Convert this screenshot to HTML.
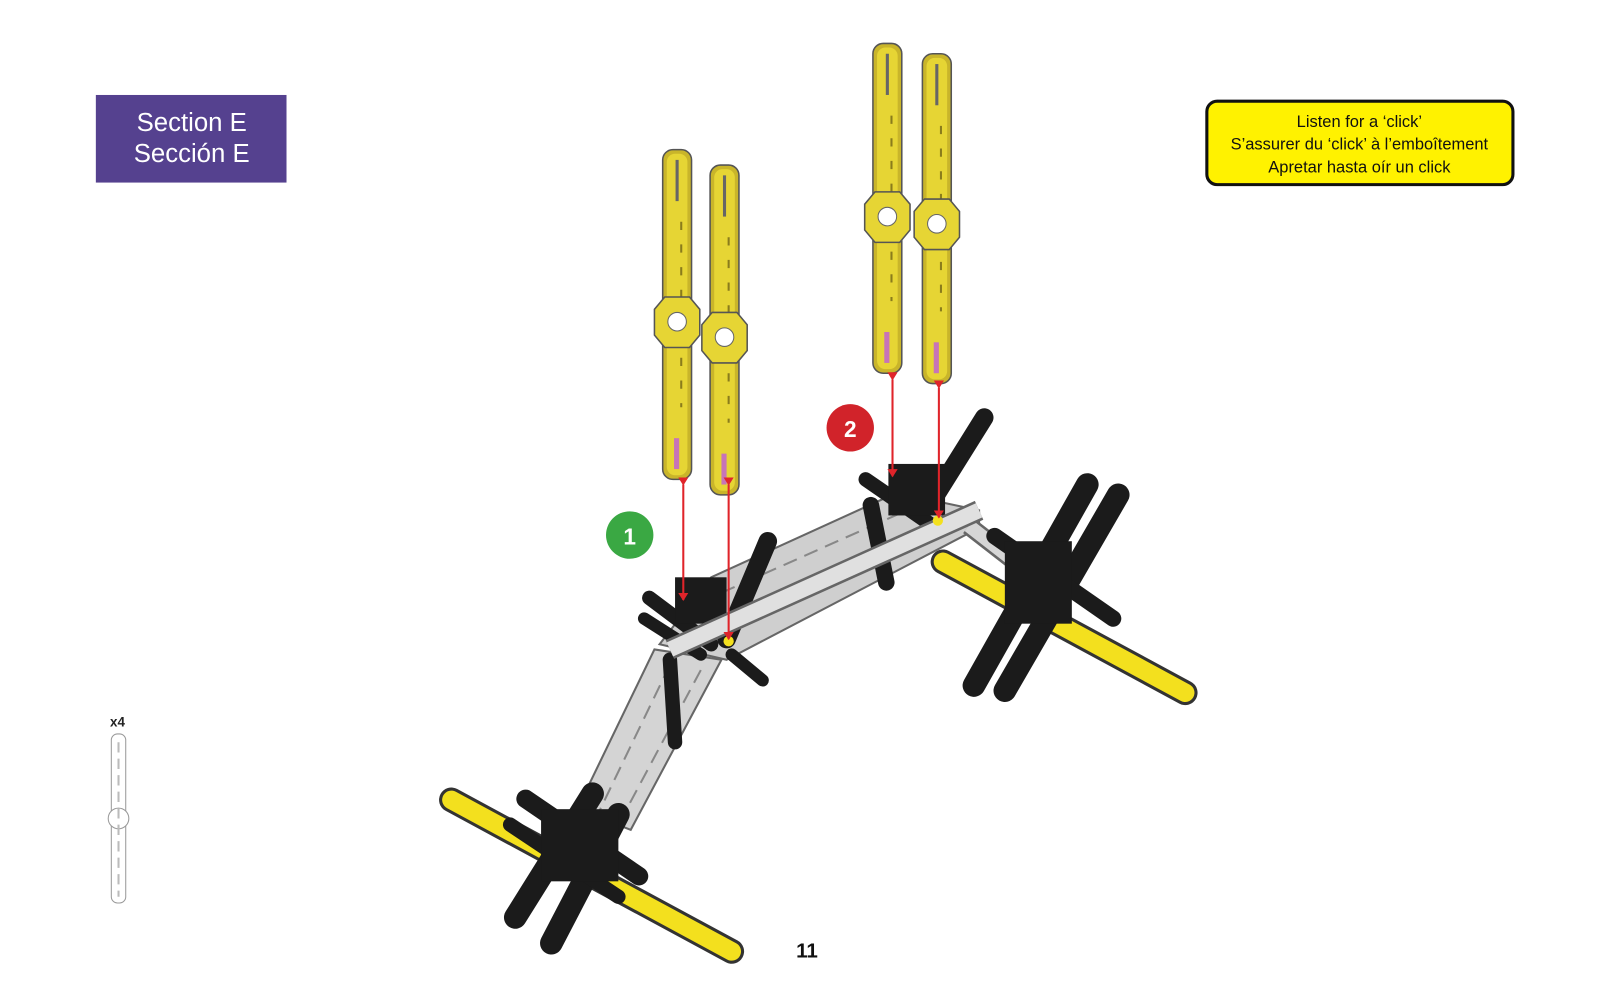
<!DOCTYPE html>
<html><head><meta charset="utf-8"><style>
html,body{margin:0;padding:0;background:#fff;}
svg{display:block}
</style></head><body>
<svg width="1616" height="1000" viewBox="0 0 1568 970" xmlns="http://www.w3.org/2000/svg">
<defs>
<marker id="ah" markerWidth="8" markerHeight="10" refX="7" refY="5" orient="auto" markerUnits="userSpaceOnUse"><path d="M0,0 L8,5 L0,10 Z" fill="#e0242a"/></marker>
<g id="vbar">
  <rect x="-14" y="0" width="28" height="320" rx="10" fill="#c9b52a" stroke="#555" stroke-width="1.5"/>
  <rect x="-10" y="4" width="20" height="312" rx="8" fill="#e6d534"/>
  <line x1="0" y1="10" x2="0" y2="50" stroke="#666" stroke-width="3"/>
  <line x1="4" y1="70" x2="4" y2="250" stroke="#8a7c1c" stroke-width="2" stroke-dasharray="8 14"/>
  <rect x="-3" y="280" width="5" height="30" fill="#c774b8"/>
</g>
</defs>

<rect x="93" y="92" width="185" height="85" fill="#55418f"/>
<text x="186" y="127" text-anchor="middle" font-family="Liberation Sans, sans-serif" font-size="25" fill="#fff">Section E</text>
<text x="186" y="157" text-anchor="middle" font-family="Liberation Sans, sans-serif" font-size="25" fill="#fff">Sección E</text>

<rect x="1171" y="98" width="297" height="81" rx="10" fill="#fff200" stroke="#111" stroke-width="3"/>
<g font-family="Liberation Sans, sans-serif" font-size="16" fill="#111" text-anchor="middle">
<text x="1319" y="123">Listen for a ‘click’</text>
<text x="1319" y="145">S’assurer du ‘click’ à l’emboîtement</text>
<text x="1319" y="167">Apretar hasta oír un click</text>
</g>

<g stroke-linecap="round">
<line x1="438" y1="776" x2="710" y2="923" stroke="#333" stroke-width="24"/>
<line x1="438" y1="776" x2="710" y2="923" stroke="#f3e01e" stroke-width="18"/>
<line x1="915" y1="545" x2="1150" y2="672" stroke="#333" stroke-width="24"/>
<line x1="915" y1="545" x2="1150" y2="672" stroke="#f3e01e" stroke-width="18"/>
</g>

<polygon points="690,560 870,478 950,495 950,512 705,640 640,625" fill="#cfcfcf" stroke="#666" stroke-width="2"/>
<g stroke="#888" stroke-width="2" stroke-dasharray="14 8">
<line x1="700" y1="575" x2="880" y2="495"/>
<line x1="695" y1="600" x2="900" y2="510"/>
</g>
<polygon points="635,630 700,640 612,805 560,785" fill="#d4d4d4" stroke="#666" stroke-width="2"/>
<g stroke="#888" stroke-width="2" stroke-dasharray="14 8">
<line x1="650" y1="645" x2="580" y2="790"/>
<line x1="680" y1="650" x2="600" y2="800"/>
</g>
<line x1="940" y1="510" x2="1030" y2="580" stroke="#666" stroke-width="18"/>
<line x1="940" y1="510" x2="1030" y2="580" stroke="#d6d6d6" stroke-width="13"/>

<g stroke="#1b1b1b" stroke-linecap="round">
<line x1="500" y1="890" x2="575" y2="770" stroke-width="22"/>
<line x1="535" y1="915" x2="600" y2="790" stroke-width="22"/>
<line x1="510" y1="775" x2="620" y2="850" stroke-width="18"/>
<line x1="495" y1="800" x2="600" y2="870" stroke-width="14"/>
<rect x="525" y="785" width="75" height="70" fill="#1b1b1b" stroke="none"/>
<line x1="945" y1="665" x2="1055" y2="470" stroke-width="22"/>
<line x1="975" y1="670" x2="1085" y2="480" stroke-width="22"/>
<line x1="965" y1="520" x2="1080" y2="600" stroke-width="16"/>
<rect x="975" y="525" width="65" height="80" fill="#1b1b1b" stroke="none"/>
<line x1="905" y1="485" x2="955" y2="405" stroke-width="18"/>
<line x1="840" y1="465" x2="905" y2="510" stroke-width="14"/>
<line x1="845" y1="490" x2="860" y2="565" stroke-width="16"/>
<rect x="862" y="450" width="55" height="50" fill="#1b1b1b" stroke="none"/>
<line x1="630" y1="580" x2="690" y2="625" stroke-width="14"/>
<line x1="625" y1="600" x2="680" y2="635" stroke-width="12"/>
<line x1="705" y1="620" x2="745" y2="525" stroke-width="18"/>
<line x1="650" y1="640" x2="655" y2="720" stroke-width="14"/>
<line x1="710" y1="635" x2="740" y2="660" stroke-width="12"/>
<rect x="655" y="560" width="50" height="45" fill="#1b1b1b" stroke="none"/>
</g>
<line x1="650" y1="630" x2="950" y2="495" stroke="#666" stroke-width="20"/>
<line x1="650" y1="630" x2="950" y2="495" stroke="#e0e0e0" stroke-width="15"/>
<circle cx="707" cy="622" r="5" fill="#f3e01e"/>
<circle cx="910" cy="505" r="5" fill="#f3e01e"/>

<use href="#vbar" x="657" y="145"/>
<use href="#vbar" x="703" y="160"/>
<use href="#vbar" x="861" y="42"/>
<use href="#vbar" x="909" y="52"/>
<g fill="#e6d534" stroke="#555" stroke-width="1.5">
<polygon points="645,288 669,288 679,300 679,325 669,337 645,337 635,325 635,300"/>
<polygon points="691,303 715,303 725,315 725,340 715,352 691,352 681,340 681,315"/>
<polygon points="849,186 873,186 883,198 883,223 873,235 849,235 839,223 839,198"/>
<polygon points="897,193 921,193 931,205 931,230 921,242 897,242 887,230 887,205"/>
</g>
<g fill="#fff" stroke="#666"><circle cx="657" cy="312" r="9"/><circle cx="703" cy="327" r="9"/><circle cx="861" cy="210" r="9"/><circle cx="909" cy="217" r="9"/></g>

<g stroke="#e0242a" stroke-width="2" marker-start="url(#ah)" marker-end="url(#ah)">
<line x1="663" y1="470" x2="663" y2="582"/>
<line x1="707" y1="470" x2="707" y2="620"/>
<line x1="866" y1="368" x2="866" y2="462"/>
<line x1="911" y1="376" x2="911" y2="502"/>
</g>

<circle cx="611" cy="519" r="23" fill="#3aa843"/>
<text x="611" y="528" text-anchor="middle" font-family="Liberation Sans, sans-serif" font-weight="bold" font-size="22" fill="#fff">1</text>
<circle cx="825" cy="415" r="23" fill="#d1232a"/>
<text x="825" y="424" text-anchor="middle" font-family="Liberation Sans, sans-serif" font-weight="bold" font-size="22" fill="#fff">2</text>

<text x="114" y="705" text-anchor="middle" font-family="Liberation Sans, sans-serif" font-weight="bold" font-size="13" fill="#222">x4</text>
<rect x="108" y="712" width="14" height="164" rx="6" fill="#fff" stroke="#999"/>
<circle cx="115" cy="794" r="10" fill="#fff" stroke="#999"/>
<line x1="115" y1="720" x2="115" y2="870" stroke="#bbb" stroke-width="2" stroke-dasharray="10 6"/>

<text x="783" y="929" text-anchor="middle" font-family="Liberation Sans, sans-serif" font-weight="bold" font-size="20" fill="#111">11</text>
</svg>
</body></html>
